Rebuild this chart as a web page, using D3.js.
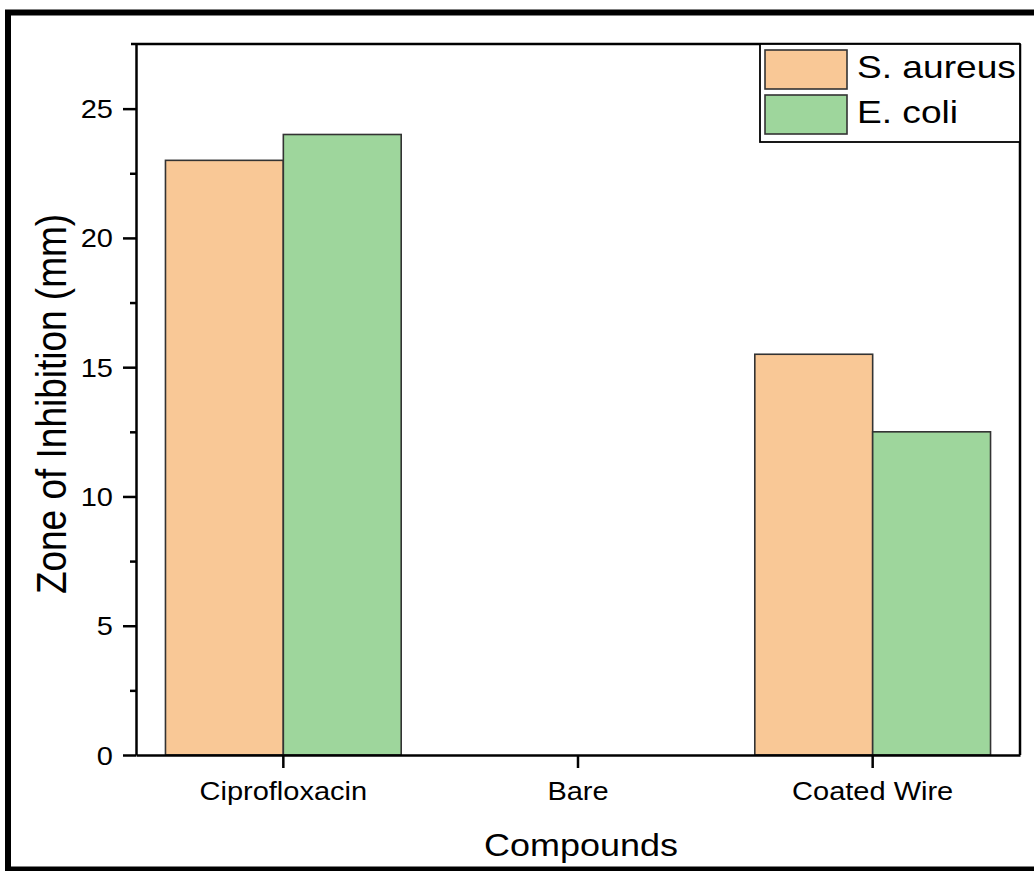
<!DOCTYPE html>
<html>
<head>
<meta charset="utf-8">
<script src="https://cdn.jsdelivr.net/npm/d3@7"></script>
<style>
  html, body { margin: 0; padding: 0; background: #fff; }
  svg { display: block; }
  text { font-family: "Liberation Sans", Arial, sans-serif; fill: #000; }
</style>
</head>
<body>
<svg id="chart" width="1034" height="871"></svg>
<script>
// Zone of inhibition per compound, for each test organism
const categories = ["Ciprofloxacin", "Bare", "Coated Wire"];
const seriesNames = ["S. aureus", "E. coli"];
const sAureus = [23, 0, 15.5];
const eColi = [24, 0, 12.5];
const yTicks = [0, 5, 10, 15, 20, 25];
const yMinorTicks = [2.5, 7.5, 12.5, 17.5, 22.5];
const seriesColors = ["#F9C896", "#9ED69C"];

const seriesValues = [sAureus, eColi];
const stretch = 1.16; // horizontal text aspect used throughout

const svg = d3.select("#chart");
const plot = { left: 136, right: 1020, top: 44, bottom: 755 };

// outer frame
svg.append("rect")
  .attr("x", 8).attr("y", 12.5)
  .attr("width", 1040).attr("height", 857)
  .attr("fill", "none").attr("stroke", "#000").attr("stroke-width", 6);

const x = d3.scaleBand().domain(categories)
  .range([plot.left, plot.right]).paddingInner(0.2).paddingOuter(0.1);
const xSub = d3.scaleBand().domain(seriesNames).range([0, x.bandwidth()]);
const y = d3.scaleLinear().domain([0, 27.5]).range([plot.bottom, plot.top]);

// bars
const groups = svg.append("g").selectAll("g")
  .data(categories).join("g")
  .attr("transform", d => `translate(${x(d)},0)`);

groups.selectAll("rect")
  .data((c, i) => seriesNames.map((s, j) => ({ s, v: seriesValues[j][i], j })).filter(d => d.v > 0))
  .join("rect")
  .attr("x", d => xSub(d.s))
  .attr("width", xSub.bandwidth())
  .attr("y", d => y(d.v))
  .attr("height", d => y(0) - y(d.v))
  .attr("fill", d => seriesColors[d.j])
  .attr("stroke", "#333")
  .attr("stroke-width", 1.6);

// frame lines (top and right)
svg.append("line").attr("x1", plot.left - 5).attr("x2", plot.right)
  .attr("y1", plot.top).attr("y2", plot.top)
  .attr("stroke", "#000").attr("stroke-width", 2.5);
svg.append("line").attr("x1", plot.right).attr("x2", plot.right)
  .attr("y1", plot.top).attr("y2", plot.bottom)
  .attr("stroke", "#000").attr("stroke-width", 2.5);

// y axis
const yAxis = svg.append("g")
  .attr("transform", `translate(${plot.left},0)`)
  .call(d3.axisLeft(y).tickValues(yTicks).tickSize(13).tickSizeOuter(0).tickFormat(d3.format("d")));
yAxis.select(".domain").attr("stroke-width", 2.5);
yAxis.selectAll(".tick line").attr("stroke-width", 2.5);
yAxis.selectAll(".tick text")
  .attr("x", null).attr("dy", "0.36em")
  .attr("transform", `translate(-23,0) scale(${stretch},1)`)
  .style("font-size", "25px")
  .style("font-family", "'Liberation Sans', Arial, sans-serif");

// y minor ticks
svg.append("g").attr("transform", `translate(${plot.left},0)`)
  .call(d3.axisLeft(y).tickValues(yMinorTicks).tickSize(6).tickFormat(""))
  .call(g => g.select(".domain").remove())
  .selectAll(".tick line").attr("stroke-width", 2.5);

// x axis
const xAxis = svg.append("g")
  .attr("transform", `translate(0,${plot.bottom})`)
  .call(d3.axisBottom(x).tickSize(13).tickSizeOuter(0));
xAxis.select(".domain").attr("stroke-width", 2.5);
xAxis.selectAll(".tick line").attr("stroke-width", 2.5);
xAxis.selectAll(".tick text")
  .attr("y", null).attr("dy", null)
  .attr("transform", `translate(0,45) scale(${stretch},1)`)
  .style("font-size", "25px")
  .style("font-family", "'Liberation Sans', Arial, sans-serif");

// axis titles
svg.append("text")
  .attr("transform", `translate(${(plot.left + plot.right) / 2 + 3},856) scale(${stretch},1)`)
  .attr("text-anchor", "middle")
  .style("font-size", "31px")
  .text("Compounds");

svg.append("text")
  .attr("transform", `translate(66,404) scale(${stretch},1) rotate(-90)`)
  .attr("text-anchor", "middle")
  .style("font-size", "37px")
  .text("Zone of Inhibition (mm)");

// legend
const legend = svg.append("g");
legend.append("rect")
  .attr("x", 760).attr("y", plot.top)
  .attr("width", plot.right - 760).attr("height", 98)
  .attr("fill", "#fff").attr("stroke", "#000").attr("stroke-width", 1.8);

const items = legend.selectAll("g.item")
  .data(seriesNames).join("g").attr("class", "item")
  .attr("transform", (d, i) => `translate(765,${50 + i * 45})`);
items.append("rect")
  .attr("width", 82).attr("height", 39)
  .attr("fill", (d, i) => seriesColors[i])
  .attr("stroke", "#333").attr("stroke-width", 1.6);
items.append("text")
  .attr("transform", `translate(92,28) scale(${stretch},1)`)
  .style("font-size", "32px")
  .text(d => d);
</script>
</body>
</html>
